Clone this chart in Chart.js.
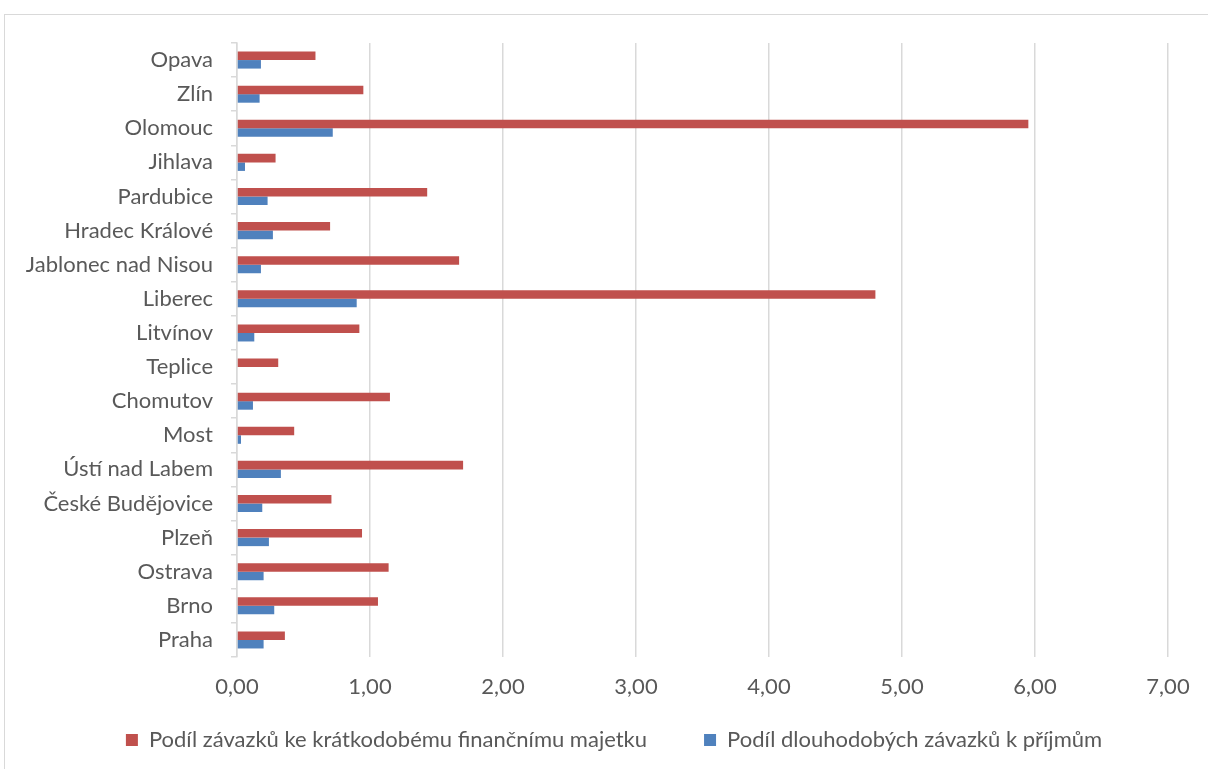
<!DOCTYPE html>
<html>
<head>
<meta charset="utf-8">
<script src="https://cdn.jsdelivr.net/npm/chart.js@4.4.0/dist/chart.umd.min.js"></script>
<style>
    body { margin: 0; background: #fff; overflow: hidden; }
    #frame { position: absolute; left: 4px; top: 14px; width: 1300px; height: 900px; border: 1px solid #d9d9d9; }
    #wrap { position: absolute; left: 0; top: 0; width: 1208px; height: 769px; }
</style>
</head>
<body>
<div id="frame"></div>
<div id="wrap"><canvas id="chart" width="1208" height="769"></canvas></div>
<script>
// Categories, top to bottom as shown
const cities = ['Opava', 'Zlín', 'Olomouc', 'Jihlava', 'Pardubice', 'Hradec Králové',
    'Jablonec nad Nisou', 'Liberec', 'Litvínov', 'Teplice', 'Chomutov', 'Most',
    'Ústí nad Labem', 'České Budějovice', 'Plzeň', 'Ostrava', 'Brno', 'Praha'];

// Podíl závazků ke krátkodobému finančnímu majetku
const shortTermShare = [0.59, 0.95, 5.95, 0.29, 1.43, 0.70, 1.67, 4.80, 0.92, 0.31,
    1.15, 0.43, 1.70, 0.71, 0.94, 1.14, 1.06, 0.36];

// Podíl dlouhodobých závazků k příjmům
const longTermShare = [0.18, 0.17, 0.72, 0.06, 0.23, 0.27, 0.18, 0.90, 0.13, 0,
    0.12, 0.03, 0.33, 0.19, 0.24, 0.20, 0.28, 0.20];

const seriesNames = ['Podíl závazků ke krátkodobému finančnímu majetku',
    'Podíl dlouhodobých závazků k příjmům'];

const axisTicks = [0, 1, 2, 3, 4, 5, 6, 7];

const textColor = '#595959';
const gridColor = '#d9d9d9';
const fontFamily = 'Lato, "Open Sans", sans-serif';

const ctx = document.getElementById('chart').getContext('2d');

window.myBarChart = new Chart(ctx, {
    type: 'bar',
    data: {
        labels: cities,
        datasets: [{
            label: seriesNames[0],
            data: shortTermShare,
            backgroundColor: '#c0504d',
            categoryPercentage: 0.5,
            barPercentage: 1.0
        }, {
            label: seriesNames[1],
            data: longTermShare,
            backgroundColor: '#4f81bd',
            categoryPercentage: 0.5,
            barPercentage: 1.0
        }]
    },
    options: {
        indexAxis: 'y',
        responsive: false,
        animation: false,
        devicePixelRatio: 1,
        layout: {
            padding: { top: 43, left: 20, right: 0, bottom: 8 }
        },
        scales: {
            x: {
                min: axisTicks[0],
                max: axisTicks[axisTicks.length - 1],
                afterBuildTicks: scale => {
                    scale.ticks = axisTicks.map(v => ({ value: v }));
                },
                afterFit: scale => {
                    // thin axis box; labels are mirrored so they are not clipped to it
                    scale.height = 15;
                    scale.paddingRight = 40;
                },
                grid: { color: gridColor, lineWidth: 1.5, drawTicks: false },
                border: { display: false },
                ticks: {
                    mirror: true,
                    padding: -43,
                    color: textColor,
                    font: { family: fontFamily, size: 22 },
                    callback: v => Number(v).toFixed(2).replace('.', ',')
                }
            },
            y: {
                afterFit: scale => {
                    scale.width = 217;
                },
                grid: { offset: true, drawOnChartArea: false, tickLength: 6, color: gridColor, lineWidth: 1.5 },
                border: { color: gridColor, width: 1.5 },
                ticks: {
                    padding: 18,
                    autoSkip: false,
                    color: textColor,
                    font: { family: fontFamily, size: 22 }
                }
            }
        },
        plugins: {
            legend: {
                position: 'bottom',
                labels: {
                    boxWidth: 12,
                    boxHeight: 12,
                    padding: 57,
                    color: textColor,
                    font: { family: fontFamily, size: 22 }
                }
            },
            tooltip: { enabled: false }
        }
    }
});
</script>
</body>
</html>
